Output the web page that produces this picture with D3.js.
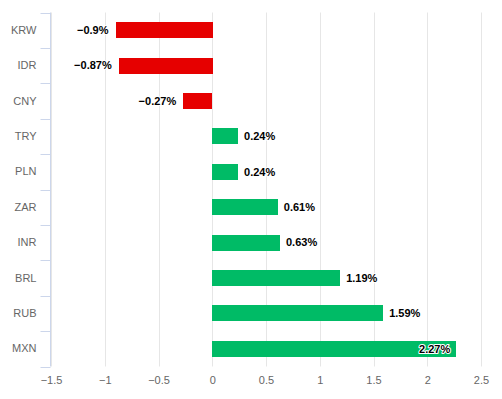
<!DOCTYPE html>
<html>
<head>
<meta charset="utf-8">
<script src="https://cdn.jsdelivr.net/npm/d3@7"></script>
<style>
  body { margin: 0; background: #fff; }
  svg { font-family: "Lucida Grande", "Lucida Sans Unicode", Arial, Helvetica, sans-serif; }
</style>
</head>
<body>
<div id="chart"></div>
<script>
// currencies, top to bottom
var currencies = ["KRW", "IDR", "CNY", "TRY", "PLN", "ZAR", "INR", "BRL", "RUB", "MXN"];
// change in percent
var changes = [-0.9, -0.87, -0.27, 0.24, 0.24, 0.61, 0.63, 1.19, 1.59, 2.27];
var xTicks = [-1.5, -1, -0.5, 0, 0.5, 1, 1.5, 2, 2.5];

var width = 502, height = 399;
// plot box (window.top is taken, so plot* names)
var plotLeft = 51, plotRight = 481, plotTop = 12.5, plotBottom = 366.5;

var fmt = function(v) { return String(v).replace("-", "\u2212"); };

var svg = d3.select("#chart").append("svg")
  .attr("width", width)
  .attr("height", height);

var x = d3.scaleLinear().domain([-1.5, 2.5]).range([plotLeft, plotRight]);
var y = d3.scaleBand().domain(currencies).range([plotTop, plotBottom]).paddingInner(0.55).paddingOuter(0.275);
var band = d3.scaleBand().domain(currencies).range([plotTop, plotBottom]);

// grid lines
svg.append("g").selectAll("line")
  .data(xTicks)
  .join("line")
  .attr("x1", function(d) { return Math.round(x(d)) + 0.5; })
  .attr("x2", function(d) { return Math.round(x(d)) + 0.5; })
  .attr("y1", plotTop)
  .attr("y2", plotBottom)
  .attr("stroke", "#e6e6e6")
  .attr("stroke-width", 1);

// bottom axis, no line or ticks
var xAxis = svg.append("g")
  .attr("transform", "translate(0," + plotBottom + ")")
  .call(d3.axisBottom(x).tickValues(xTicks).tickSize(0).tickPadding(10).tickFormat(fmt));
xAxis.select(".domain").remove();
xAxis.selectAll("text")
  .attr("fill", "#666666")
  .style("font-size", "11px")
  .style("font-family", null);

// category axis on the left
var yAxis = svg.append("g")
  .attr("transform", "translate(" + (plotLeft - 0.5) + ",0)")
  .call(d3.axisLeft(band).tickSize(0).tickPadding(14));
yAxis.select(".domain")
  .attr("stroke", "#ccd6eb")
  .attr("d", "M0," + plotTop + "V" + plotBottom);
yAxis.selectAll("text")
  .attr("fill", "#666666")
  .style("font-size", "11px")
  .style("font-family", null);

// tick marks on category boundaries
var bounds = currencies.map(function(c) { return band(c); }).concat([plotBottom]);
yAxis.append("g").selectAll("line")
  .data(bounds)
  .join("line")
  .attr("x1", -10)
  .attr("x2", 0)
  .attr("y1", function(d) { return Math.round(d) + 0.5; })
  .attr("y2", function(d) { return Math.round(d) + 0.5; })
  .attr("stroke", "#ccd6eb");

// bars
svg.append("g").selectAll("rect")
  .data(changes)
  .join("rect")
  .attr("x", function(d) { return Math.round(x(Math.min(0, d))); })
  .attr("y", function(d, i) { return Math.round(y(currencies[i])); })
  .attr("width", function(d) { return Math.round(Math.abs(x(d) - x(0))); })
  .attr("height", Math.round(y.bandwidth()))
  .attr("fill", function(d) { return d < 0 ? "#e60000" : "#00bb66"; });

// data labels
var inside = function(d) { return x(d) + 45 > plotRight; };
svg.append("g").selectAll("text")
  .data(changes)
  .join("text")
  .attr("x", function(d) {
    var end = x(d);
    if (d < 0) return end - 7;
    if (inside(d)) return end - 6;
    return end + 6;
  })
  .attr("y", function(d, i) { return band(currencies[i]) + band.bandwidth() / 2; })
  .attr("dy", "0.35em")
  .attr("text-anchor", function(d) { return (d < 0 || inside(d)) ? "end" : "start"; })
  .attr("fill", "#000")
  .attr("stroke", "#fff")
  .attr("stroke-width", 2)
  .attr("stroke-linejoin", "round")
  .attr("paint-order", "stroke")
  .style("font-size", "11px")
  .style("font-weight", "bold")
  .text(function(d) { return fmt(d) + "%"; });
</script>
</body>
</html>
